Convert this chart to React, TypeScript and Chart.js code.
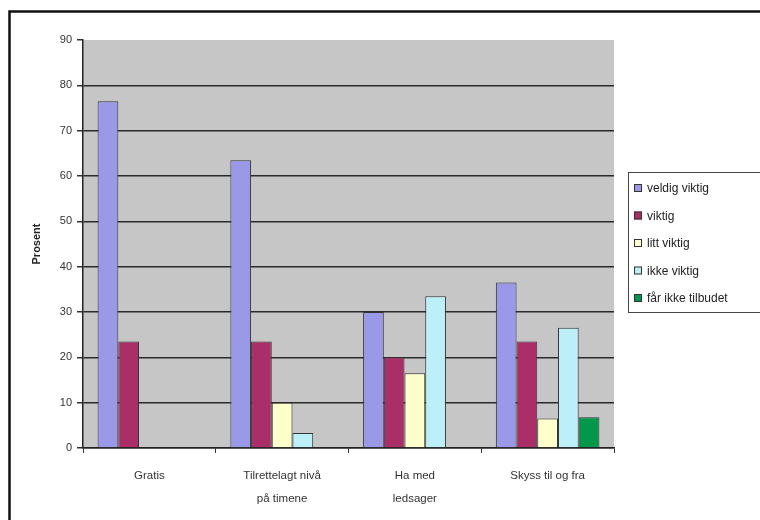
import React, { useEffect, useRef } from "react";
import { Chart, registerables } from "chart.js";

Chart.register(...registerables);

const categories: string[][] = [
  ["Gratis"],
  ["Tilrettelagt nivå", "på timene"],
  ["Ha med", "ledsager"],
  ["Skyss til og fra"],
];
const seriesNames = ["veldig viktig", "viktig", "litt viktig", "ikke viktig", "får ikke tilbudet"];
const veldigViktig = [76.5, 63.5, 30, 36.5];
const viktig = [23.5, 23.5, 20, 23.5];
const littViktig = [0, 10, 16.5, 6.5];
const ikkeViktig = [0, 3.3, 33.5, 26.5];
const farIkkeTilbud = [0, 0, 0, 6.8];
const seriesColors = ["#9999E8", "#AA2E68", "#FFFFCC", "#BDEFF8", "#00994C"];
const yTicks = [0, 10, 20, 30, 40, 50, 60, 70, 80, 90];
const yTitle = "Prosent";

const FONT = "'Liberation Sans', Arial, sans-serif";

export default function App() {
  const ref = useRef<HTMLCanvasElement>(null);
  useEffect(() => {
    document.body.style.margin = "0";
    const canvas = ref.current!;
    const values = [veldigViktig, viktig, littViktig, ikkeViktig, farIkkeTilbud];

    const bgPlugin = {
      id: "bgPlugin",
      beforeDraw(chart: any) {
        const { ctx, chartArea } = chart;
        ctx.save();
        ctx.fillStyle = "#ffffff";
        ctx.fillRect(0, 0, chart.width, chart.height);
        ctx.fillStyle = "#C6C6C6";
        ctx.fillRect(chartArea.left, chartArea.top, chartArea.right - chartArea.left, chartArea.bottom - chartArea.top);
        ctx.strokeStyle = "#111";
        ctx.lineWidth = 2.5;
        ctx.strokeRect(9.5, 11.5, 900, 700);
        ctx.restore();
      },
      afterDraw(chart: any) {
        const { ctx } = chart;
        ctx.save();
        const left = 628;
        const top = 172;
        const bottom = 312;
        ctx.strokeStyle = "#444";
        ctx.lineWidth = 1;
        ctx.strokeRect(left + 0.5, top + 0.5, 400, bottom - top);
        ctx.font = `12px ${FONT}`;
        ctx.textBaseline = "middle";
        ctx.textAlign = "left";
        chart.data.datasets.forEach((ds: any, i: number) => {
          const cy = 188 + i * 27.5;
          ctx.fillStyle = ds.backgroundColor;
          ctx.fillRect(634, cy - 4, 8, 8);
          ctx.strokeStyle = "#333";
          ctx.strokeRect(634.5, cy - 3.5, 7, 7);
          ctx.fillStyle = "#222";
          ctx.fillText(ds.label, 647, cy + 1);
        });
        ctx.restore();
      },
    };

    const chart = new Chart(canvas, {
      type: "bar",
      data: {
        labels: categories,
        datasets: seriesNames.map((name, i) => ({
          label: name,
          data: values[i],
          backgroundColor: seriesColors[i],
          borderColor: "#333",
          borderWidth: 1,
          categoryPercentage: 0.78,
          barPercentage: 1.0,
        })),
      },
      options: {
        responsive: false,
        animation: false,
        devicePixelRatio: 1,
        layout: { padding: { left: 26, top: 40, right: 146, bottom: 0 } },
        plugins: {
          legend: { display: false },
          tooltip: { enabled: false },
        },
        scales: {
          x: {
            offset: true,
            grid: {
              offset: true,
              drawOnChartArea: false,
              drawTicks: true,
              tickLength: 5,
              tickColor: "#333",
            },
            border: { display: true, color: "#222", width: 1.5 },
            ticks: {
              color: "#333",
              font: { family: FONT, size: 11.5, lineHeight: 2.0 },
              padding: 11,
              maxRotation: 0,
              autoSkip: false,
            },
            afterFit: (scale: any) => {
              scale.height = 72;
            },
          },
          y: {
            min: 0,
            max: 90,
            afterBuildTicks: (scale: any) => {
              scale.ticks = yTicks.map((v) => ({ value: v }));
            },
            grid: {
              color: (c: any) => (c.tick && c.tick.value === 90 ? "rgba(0,0,0,0)" : "#2a2a2a"),
              lineWidth: 1.5,
              drawTicks: true,
              tickLength: 6,
              tickColor: "#333",
              tickWidth: 1.5,
            },
            border: { display: true, color: "#222", width: 1.5 },
            ticks: {
              color: "#333",
              font: { family: FONT, size: 11 },
              padding: 5,
            },
            title: {
              display: true,
              text: yTitle,
              color: "#222",
              font: { family: FONT, size: 11, weight: "bold" },
              padding: 4,
            },
            afterFit: (scale: any) => {
              scale.width = 57;
            },
          },
        },
      },
      plugins: [bgPlugin],
    });
    return () => chart.destroy();
  }, []);
  return (
    <div style={{ width: 760, height: 520 }}>
      <canvas ref={ref} width={760} height={520} style={{ display: "block" }} />
    </div>
  );
}
